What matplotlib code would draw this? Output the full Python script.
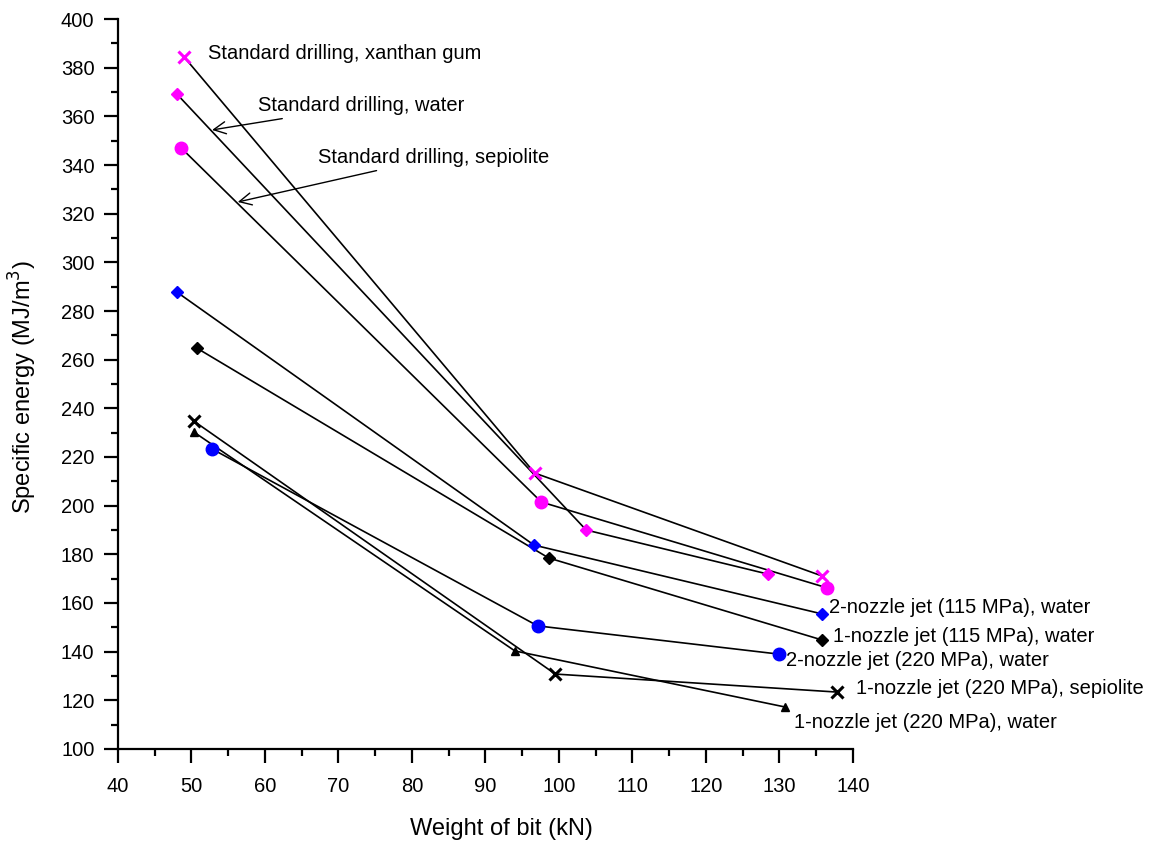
import matplotlib.pyplot as plt
from matplotlib.ticker import MultipleLocator

plt.rcParams['font.family'] = ['Liberation Sans', 'DejaVu Sans']

# series: (weight of bit kN, specific energy MJ/m3)
std_xanthan_x = [49.0, 96.7, 135.8]
std_xanthan_y = [384.4, 213.4, 171.1]
std_water_x = [48.0, 103.7, 128.4]
std_water_y = [369.2, 190.0, 171.9]
std_sepiolite_x = [48.6, 97.6, 136.5]
std_sepiolite_y = [347.0, 201.5, 166.2]
n2_115_x = [48.0, 96.6, 135.8]
n2_115_y = [287.8, 183.8, 155.5]
n1_115_x = [50.7, 98.6, 135.8]
n1_115_y = [264.8, 178.5, 144.8]
n2_220_x = [52.8, 97.1, 129.9]
n2_220_y = [223.3, 150.6, 139.0]
n1_220_sep_x = [50.3, 99.5, 137.8]
n1_220_sep_y = [234.8, 130.8, 123.4]
n1_220_water_x = [50.3, 94.0, 130.7]
n1_220_water_y = [230.3, 140.3, 117.3]

MAGENTA = '#ff00ff'
BLUE = '#0000ff'

fig = plt.figure(figsize=(11.5, 8.41), dpi=100)
ax = fig.add_axes([0.1026, 0.1094, 0.6391, 0.868])

def series(x, y, marker, color, ms, mew=1.0):
    ax.plot(x, y, color='black', lw=1.2, zorder=2)
    ax.plot(x, y, ls='none', marker=marker, color=color, ms=ms, mew=mew, zorder=3)

series(std_xanthan_x, std_xanthan_y, 'x', MAGENTA, 8, 2.2)
series(std_water_x, std_water_y, 'D', MAGENTA, 6)
series(std_sepiolite_x, std_sepiolite_y, 'o', MAGENTA, 9)
series(n2_115_x, n2_115_y, 'D', BLUE, 6)
series(n1_115_x, n1_115_y, 'D', 'black', 6)
series(n2_220_x, n2_220_y, 'o', BLUE, 9)
series(n1_220_sep_x, n1_220_sep_y, 'x', 'black', 8, 2.2)
series(n1_220_water_x, n1_220_water_y, '^', 'black', 6)

fs = 14.5
arrow = dict(arrowstyle='->,head_length=0.6,head_width=0.3', color='black', lw=1.0, shrinkA=2, shrinkB=0)
ax.text(52.2, 386, 'Standard drilling, xanthan gum', fontsize=fs, va='center')
ax.annotate('Standard drilling, water', xy=(52.8, 354.4), xytext=(59.0, 364.3),
            fontsize=fs, va='center', arrowprops=arrow)
ax.annotate('Standard drilling, sepiolite', xy=(56.3, 324.8), xytext=(67.2, 343.0),
            fontsize=fs, va='center', arrowprops=arrow)

ax.text(136.7, 158.0, '2-nozzle jet (115 MPa), water', fontsize=fs, va='center', clip_on=False)
ax.text(137.3, 146.4, '1-nozzle jet (115 MPa), water', fontsize=fs, va='center', clip_on=False)
ax.text(130.9, 136.2, '2-nozzle jet (220 MPa), water', fontsize=fs, va='center', clip_on=False)
ax.text(140.4, 124.7, '1-nozzle jet (220 MPa), sepiolite', fontsize=fs, va='center', clip_on=False)
ax.text(132.0, 111.0, '1-nozzle jet (220 MPa), water', fontsize=fs, va='center', clip_on=False)

ax.set_xlim(40, 140)
ax.set_ylim(100, 400)
ax.xaxis.set_major_locator(MultipleLocator(10))
ax.xaxis.set_minor_locator(MultipleLocator(5))
ax.yaxis.set_major_locator(MultipleLocator(20))
ax.yaxis.set_minor_locator(MultipleLocator(10))
ax.spines['top'].set_visible(False)
ax.spines['right'].set_visible(False)
for s in ('left', 'bottom'):
    ax.spines[s].set_linewidth(1.6)
ax.tick_params(which='major', direction='out', length=10, width=1.6, labelsize=14.5)
ax.tick_params(which='minor', direction='out', length=5, width=1.6)
ax.tick_params(axis='x', which='major', pad=10)
ax.tick_params(axis='y', which='major', pad=7)

ax.set_xlabel('Weight of bit (kN)', fontsize=17)
ax.xaxis.set_label_coords(0.522, -0.094)
ax.set_ylabel('Specific energy (MJ/m$^3$)', fontsize=17)
ax.yaxis.set_label_coords(-0.108, 0.495)

fig.savefig('out.png', dpi=100)
